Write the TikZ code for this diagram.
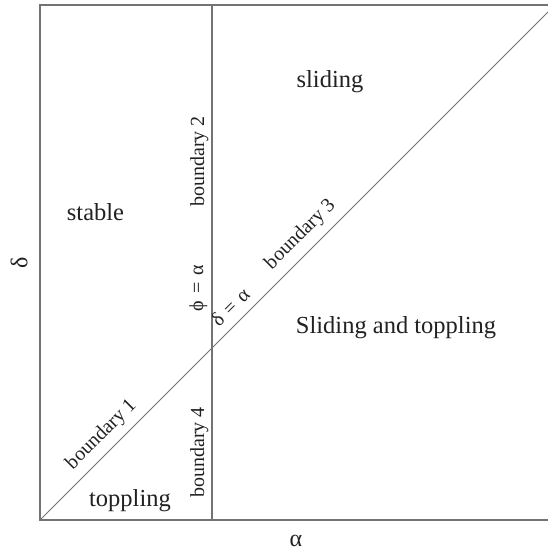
\documentclass[tikz,border=0pt]{standalone}
\usepackage{fontspec}
\setmainfont{Liberation Serif}
\begin{document}
\begin{tikzpicture}[x=1pt,y=-1pt,
  frameline/.style={draw=black!55, line width=1.1pt},
  diagline/.style={draw=black!55, line width=0.8pt},
  region/.style={font=\fontsize{24.5}{28}\selectfont, text=black!87, inner sep=0pt, anchor=base},
  blabel/.style={font=\fontsize{20}{24}\selectfont, text=black!87, inner sep=0pt, anchor=base},
  axlabel/.style={font=\fontsize{24}{28}\selectfont, text=black!87, inner sep=0pt}
]
\useasboundingbox (0,0) rectangle (548,552);
\coordinate (TL) at (40,5);
\coordinate (TR) at (548,5);
\coordinate (BL) at (40,520);
\coordinate (BR) at (548,520);
\coordinate (VT) at (212,5);
\coordinate (VB) at (212,520);
\coordinate (DE) at (548,12);
\draw[frameline] (TR) -- (TL) -- (BL) -- (BR);
\draw[frameline] (VT) -- (VB);
\draw[diagline] (BL) -- (DE);
% region labels
\node[region] (sliding) at (330,87) {sliding};
\node[region] (stable) at (95.5,220) {stable};
\node[region] (slidtop) at (396,333) {Sliding and toppling};
\node[region] (toppling) at (130,506) {toppling};
% boundary labels
\node[blabel, rotate=90] (b2) at (204,161.5) {boundary 2};
\node[blabel, rotate=90] (phi) at (203,288) {ϕ\hspace{0.35em}=\hspace{0.35em}α};
\node[blabel, rotate=90] (b4) at (204,452.5) {boundary 4};
\node[blabel, rotate=45] (b1) at (105,438) {boundary 1};
\node[blabel, rotate=45] (b3) at (304,238) {boundary 3};
\node[blabel, rotate=45] (da) at (235,312) {δ\hspace{0.35em}=\hspace{0.35em}α};
% axis labels
\node[axlabel, rotate=90] (delta) at (19,263) {δ};
\node[axlabel] (alpha) at (296,541) {α};
\end{tikzpicture}
\end{document}
